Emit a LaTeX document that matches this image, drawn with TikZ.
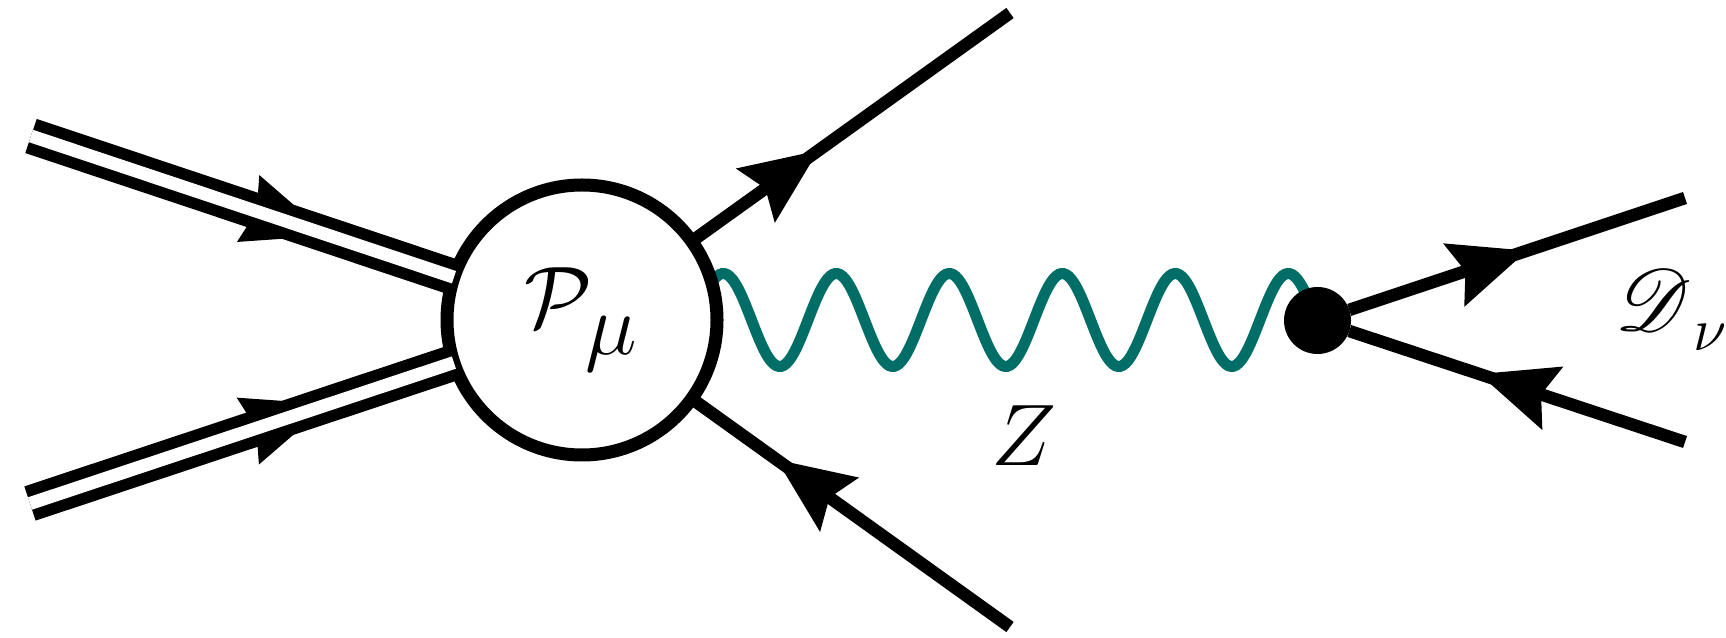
\documentclass[tikz,border=0pt]{standalone}
\usepackage{amsmath}
\usepackage{amssymb}
\usepackage{mathrsfs}
\usepackage{tikz}
\usetikzlibrary{arrows.meta}
\usetikzlibrary{backgrounds}
\usetikzlibrary{decorations.markings}
\definecolor{zboson}{RGB}{0,110,102}
\DeclareMathSizes{48}{48}{23}{18}
\tikzset{
    tipat/.style n args={3}{preaction={decorate,decoration={markings,
        mark=at position #1 with {\arrow{Stealth[length=#2,width=.85cm,inset=#3]}}}}},
    fermion/.style={line width=.125cm},
    baryon/.style={line width=.115cm,double,double distance=.13cm},
    gaugeline/.style={zboson,line width=.11cm},
}
\begin{document}
\begin{tikzpicture}
    \useasboundingbox (0,0) rectangle (17.26,6.38);
    \node[circle,draw,fill=white,line width=.13cm,minimum size=2.7cm,inner sep=0pt,outer sep=0pt] (blob) at (5.82,3.18)
        {\fontsize{48}{52}\selectfont$\mathcal{P}_{\raisebox{-4pt}{$\scriptstyle\mu$}}$};
    \node[circle,fill=black,minimum size=.67cm,inner sep=0pt,outer sep=0pt] (dot) at (13.175,3.175) {};
    \coordinate (inA) at (0.31,5.02);
    \coordinate (inB) at (0.30,1.345);
    \coordinate (outA) at (10.10,6.25);
    \coordinate (outB) at (10.10,0.11);
    \coordinate (outC) at (16.85,4.40);
    \coordinate (outD) at (16.85,1.96);
    \draw[baryon,tipat={0.735}{1.05cm}{.1cm}] (inA)--(blob);
    \draw[baryon,tipat={0.735}{1.05cm}{.1cm}] (inB)--(blob);
    \draw[fermion,tipat={0.434}{1cm}{.15cm}] (blob)--(outA);
    \draw[fermion,tipat={0.77}{1cm}{.15cm}] (outB)--(blob);
    \draw[fermion,tipat={0.57}{1cm}{.15cm}] (dot)--(outC);
    \draw[fermion,tipat={0.653}{1cm}{.15cm}] (outD)--(dot);
    \begin{scope}[on background layer]
        \draw[gaugeline,shift={(blob.center)},domain=0:7.35,samples=300,smooth,variable=\u]
            plot ({\u},{0.465*sin(\u*360/1.13)});
    \end{scope}
    \node (zlabel) at (10.24,2.02) {\fontsize{48}{52}\selectfont$Z$};
    \node[anchor=west,inner sep=0pt] (dlabel) at (16.15,3.28) {\fontsize{24}{28}\selectfont$\mathscr{D}_{\,\raisebox{-2pt}{$\scriptstyle\nu$}}$};
\end{tikzpicture}
\end{document}
